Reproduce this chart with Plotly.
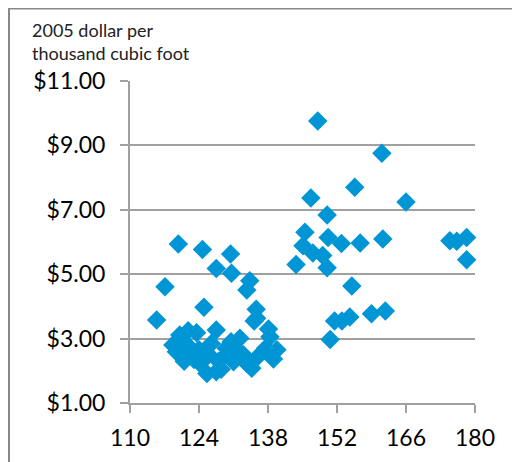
import plotly.graph_objects as go

# Data (x: index value, y: 2005 dollars per thousand cubic foot)
x_values = [
    148.1, 161.1, 155.6, 146.7, 166.0, 150.0, 145.5, 150.2, 152.9, 156.7, 161.3,
    145.1, 147.1, 149.1, 143.7, 150.0, 155.0, 174.9, 176.3, 178.3, 178.3,
    151.5, 153.0, 154.6, 159.0, 161.8, 150.6,
    119.8, 124.7, 130.4, 127.5, 130.6, 117.1, 134.3, 133.7, 125.0, 135.6, 135.7,
    115.4, 135.2, 138.1, 127.5, 132.3, 138.4, 120.1, 121.8, 123.5, 118.7, 119.4,
    139.8, 139.1, 134.7, 131.0, 125.6, 124.2, 127.5, 122.5,
    120.5, 122.0, 124.0, 126.0, 128.0, 129.5, 130.5, 126.5, 125.0, 123.0, 128.5,
    136.0, 137.5, 133.0, 121.0, 133.6, 131.0, 129.9,
]
y_values = [
    9.76, 8.76, 7.70, 7.37, 7.24, 6.84, 6.30, 6.14, 5.95, 5.97, 6.09,
    5.88, 5.66, 5.58, 5.30, 5.20, 4.63, 6.04, 6.02, 6.14, 5.45,
    3.55, 3.55, 3.67, 3.77, 3.86, 2.97,
    5.94, 5.77, 5.63, 5.18, 5.03, 4.61, 4.80, 4.51, 3.97, 3.91, 3.63,
    3.58, 3.55, 3.30, 3.27, 3.01, 3.06, 3.11, 3.24, 3.18, 2.80, 2.59,
    2.65, 2.37, 2.08, 2.28, 1.92, 2.23, 1.97, 2.54,
    2.90, 2.75, 2.65, 2.50, 2.30, 2.70, 2.90, 2.85, 2.40, 2.35, 2.05,
    2.45, 2.70, 2.50, 2.30, 2.24, 2.74, 2.55,
]
x_ticks = [110, 124, 138, 152, 166, 180]
y_ticks = [1, 3, 5, 7, 9, 11]
y_tick_labels = ["$1.00", "$3.00", "$5.00", "$7.00", "$9.00", "$11.00"]
y_axis_title = "2005 dollar per<br>thousand cubic foot"

GRID = "#A0A0A0"
BLUE = "#0096D6"
FONT = "Lato"

# plot area in figure pixels (page has an 8px body offset)
L, T, W, H = 122, 73, 345, 322

fig = go.Figure()
fig.add_trace(go.Scatter(
    x=x_values, y=y_values, mode="markers",
    marker=dict(symbol="diamond", size=15, color=BLUE, line=dict(width=0)),
    cliponaxis=False, showlegend=False,
))

fig.update_layout(
    width=520, height=462,
    margin=dict(l=L, r=520 - L - W, t=T, b=462 - T - H),
    paper_bgcolor="white", plot_bgcolor="white",
    font=dict(family=FONT, color="black"),
    xaxis=dict(
        range=[110, 180], tickvals=x_ticks, ticks="outside", ticklen=8,
        tickcolor=GRID, tickwidth=2, showgrid=False, zeroline=False,
        showline=True, linecolor=GRID, linewidth=2,
        tickfont=dict(size=23, family=FONT), ticklabelstandoff=5,
    ),
    yaxis=dict(
        range=[1, 11], tickvals=y_ticks, ticktext=y_tick_labels,
        ticks="outside", ticklen=8, tickcolor=GRID, tickwidth=2,
        showgrid=True, gridcolor=GRID, gridwidth=2, zeroline=False,
        showline=True, linecolor=GRID, linewidth=2,
        tickfont=dict(size=23, family=FONT), ticklabelstandoff=10,
    ),
    annotations=[dict(
        text=y_axis_title, xref="paper", yref="paper",
        x=(22 - L) / W, y=(T + H - 9) / H, xanchor="left", yanchor="top",
        align="left", showarrow=False, font=dict(size=18, family=FONT, color="#222"),
    )],
    shapes=[dict(
        type="rect", xref="paper", yref="paper",
        x0=(1 - L) / W, x1=2, y0=-1, y1=(T + H - 0.5) / H,
        line=dict(color="#888888", width=2), fillcolor="rgba(0,0,0,0)", layer="below",
    )],
)

fig.write_html("out.html")
